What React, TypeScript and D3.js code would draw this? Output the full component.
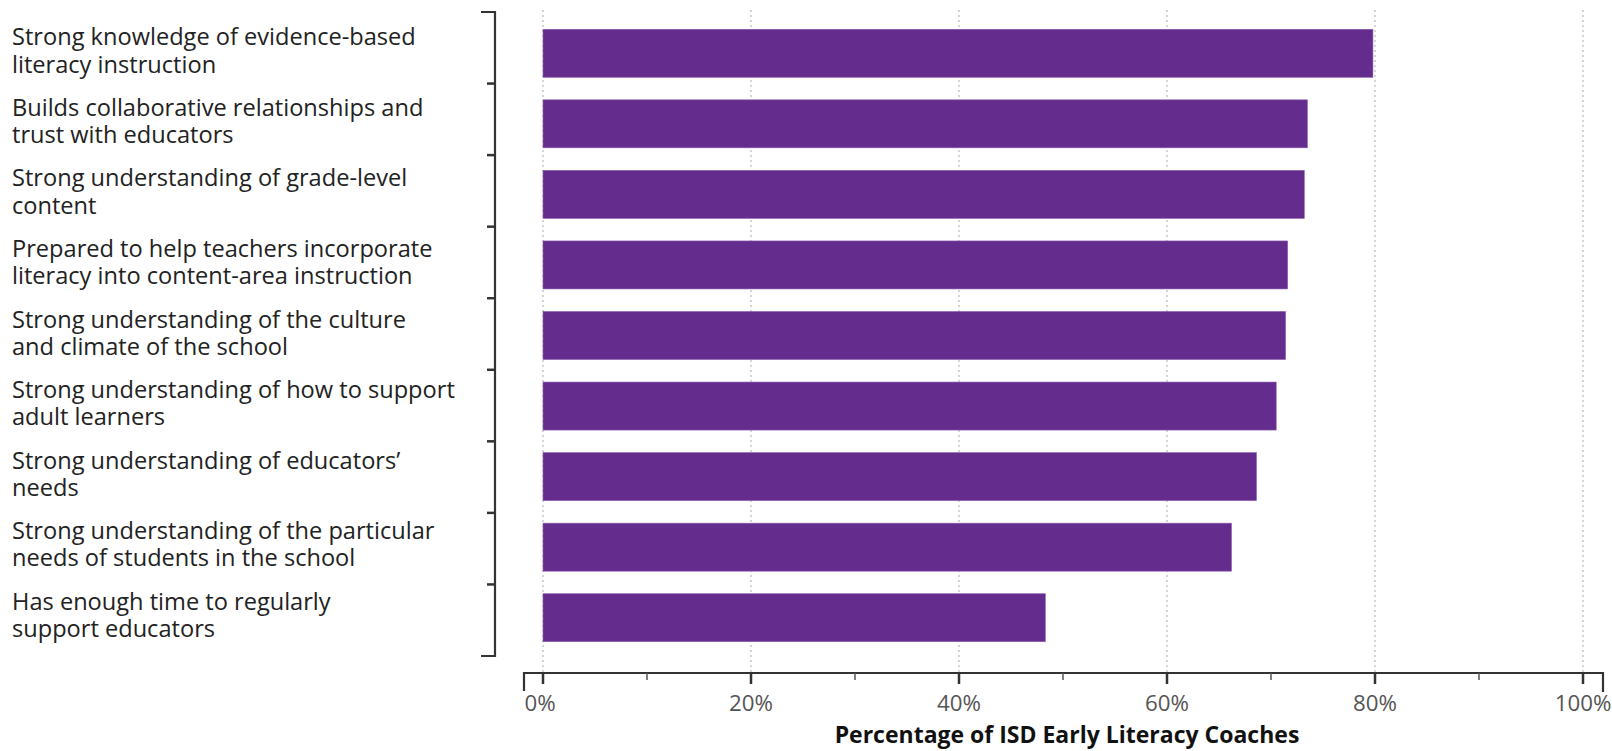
import React from "react";
import * as d3 from "d3";

const categories: string[] = [
  "Strong knowledge of evidence-based\nliteracy instruction",
  "Builds collaborative relationships and\ntrust with educators",
  "Strong understanding of grade-level\ncontent",
  "Prepared to help teachers incorporate\nliteracy into content-area instruction",
  "Strong understanding of the culture\nand climate of the school",
  "Strong understanding of how to support\nadult learners",
  "Strong understanding of educators’\nneeds",
  "Strong understanding of the particular\nneeds of students in the school",
  "Has enough time to regularly\nsupport educators",
];

const values: number[] = [79.8, 73.5, 73.2, 71.6, 71.4, 70.5, 68.6, 66.2, 48.3];

const majorTicks: number[] = [0, 20, 40, 60, 80, 100];
const minorTicks: number[] = [10, 30, 50, 70, 90];
const xTitle = "Percentage of ISD Early Literacy Coaches";

const W = 1612;
const H = 751;
const FONT = "'Open Sans', 'Noto Sans', sans-serif";

export default function App() {
  const x = d3.scaleLinear().domain([0, 100]).range([543, 1583]);
  const yBar = d3.scaleBand<string>().domain(categories).range([18, 653]).paddingInner(0.32).paddingOuter(0.16);
  const yTick = d3.scaleBand<string>().domain(categories).range([12, 656]);
  const barH = 48;
  const axisY = 673;
  const leftAxisX = 495;

  return (
    <svg
      width={W}
      height={H}
      style={{ position: "absolute", left: 0, top: 0, background: "#fff" }}
      fontFamily={FONT}
    >
      <rect x={0} y={0} width={W} height={H} fill="#fff" />
      {/* gridlines */}
      {majorTicks.map((t) => (
        <line
          key={"g" + t}
          x1={x(t)}
          x2={x(t)}
          y1={10}
          y2={axisY}
          stroke="#c8c8c8"
          strokeWidth={1.5}
          strokeDasharray="2,3"
        />
      ))}
      {/* bars */}
      {categories.map((c, i) => {
        const cy = (yBar(c) as number) + yBar.bandwidth() / 2;
        return (
          <rect
            key={"b" + i}
            x={x(0)}
            y={cy - barH / 2}
            width={x(values[i]) - x(0)}
            height={barH}
            fill="#632c8d"
            stroke="#8a5cb0"
            strokeWidth={0.6}
          />
        );
      })}
      {/* labels */}
      {categories.map((c, i) => {
        const cy = (yBar(c) as number) + yBar.bandwidth() / 2;
        const lines = c.split("\n");
        return (
          <text key={"l" + i} x={12} y={cy - 8} fontSize={23.6} fill="#222">
            {lines.map((ln, j) => (
              <tspan key={j} x={12} dy={j === 0 ? 0 : 27.3}>
                {ln}
              </tspan>
            ))}
          </text>
        );
      })}
      {/* left axis */}
      <path
        d={`M${leftAxisX - 14},12 H${leftAxisX} V656 H${leftAxisX - 14}`}
        fill="none"
        stroke="#333"
        strokeWidth={2.2}
      />
      {categories.slice(1).map((c, i) => (
        <line
          key={"lt" + i}
          x1={leftAxisX - 8}
          x2={leftAxisX}
          y1={yTick(c) as number}
          y2={yTick(c) as number}
          stroke="#333"
          strokeWidth={2.5}
        />
      ))}
      {/* bottom axis */}
      <path
        d={`M524,691 V${axisY} H1603 V692`}
        fill="none"
        stroke="#333"
        strokeWidth={2.2}
      />
      {majorTicks.map((t) => (
        <line key={"mt" + t} x1={x(t)} x2={x(t)} y1={axisY} y2={684} stroke="#333" strokeWidth={2.5} />
      ))}
      {minorTicks.map((t) => (
        <line key={"nt" + t} x1={x(t)} x2={x(t)} y1={axisY} y2={680} stroke="#555" strokeWidth={1.5} />
      ))}
      {majorTicks.map((t) => (
        <text
          key={"tl" + t}
          x={x(t) - (t === 0 ? 3 : 0)}
          y={711}
          fontSize={22.3}
          fill="#555"
          textAnchor="middle"
        >
          {t + "%"}
        </text>
      ))}
      <text x={1067} y={743} fontSize={23} fontWeight="bold" fill="#111" textAnchor="middle">
        {xTitle}
      </text>
    </svg>
  );
}
